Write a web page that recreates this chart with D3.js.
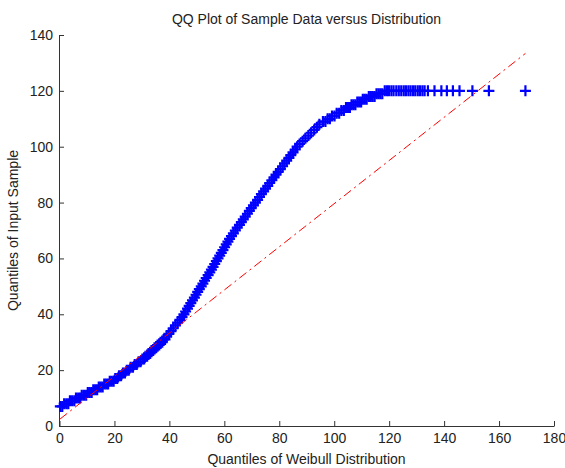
<!DOCTYPE html>
<html>
<head>
<meta charset="utf-8">
<script src="https://cdn.jsdelivr.net/npm/d3@7"></script>
<style>
    body { margin: 0; background: #fff; }
    text { font-family: "Liberation Sans", Arial, sans-serif; fill: #222; }
</style>
</head>
<body>
<div id="qq-plot"></div>
<script>
// sample quantile levels (y) and the Weibull quantiles (x) read for each level
const levelY = [7, 8, 9, 10, 11, 12, 13, 14, 15, 16, 17, 18, 19, 20, 21, 22, 23, 24, 25, 26,
    27, 28, 29, 30, 31, 32, 33, 34, 35, 36, 37, 38, 39, 40, 41, 42, 43, 44, 45, 46,
    47, 48, 49, 50, 51, 52, 53, 54, 55, 56, 57, 58, 59, 60, 61, 62, 63, 64, 65, 66,
    67, 68, 69, 70, 71, 72, 73, 74, 75, 76, 77, 78, 79, 80, 81, 82, 83, 84, 85, 86,
    87, 88, 89, 90, 91, 92, 93, 94, 95, 96, 97, 98, 99, 100, 101, 102, 103, 104, 105, 106,
    107, 108, 109, 110, 111, 112, 113, 114, 115, 116, 117, 118, 119, 120];
const levelX = [
    [0.3, 1.0], [1.7, 2.5, 3.2], [3.8, 4.6, 5.4], [6.0, 6.8, 7.5], [8.1, 8.9, 9.7],
    [10.3, 11.0, 11.7], [12.3, 13.0, 13.7], [14.3, 15.0, 15.7], [16.3, 17.0, 17.7], [18.3, 19.0, 19.7],
    [20.3, 21.0], [21.7, 22.4], [23.1, 23.8], [24.5, 25.2], [25.9, 26.7],
    [27.4, 28.1], [28.8, 29.5], [30.2, 30.8], [31.3, 31.9], [32.4, 33.0],
    [33.5, 34.1], [34.6, 35.2], [35.7, 36.3], [36.8, 37.4], [37.9, 38.4],
    [39.0], [39.8], [40.6], [41.4], [42.2], [43.0], [43.8], [44.6], [45.3], [45.9],
    [46.6], [47.2], [47.8], [48.4], [49.1], [49.7], [50.3], [50.9], [51.6], [52.2],
    [52.8], [53.4], [54.1], [54.7], [55.3], [55.9], [56.5], [57.1], [57.7], [58.3],
    [58.9], [59.5], [60.1], [60.7], [61.3], [61.9], [62.6], [63.3], [64.0], [64.7],
    [65.5], [66.2], [66.9], [67.6], [68.4], [69.1], [69.8], [70.6], [71.3], [72.1],
    [72.8], [73.5], [74.3], [75.0], [75.8], [76.5], [77.3], [78.1], [78.8], [79.6],
    [80.4], [81.2], [81.9], [82.7], [83.5], [84.2], [85.0], [85.8], [86.5], [87.4],
    [88.5], [89.5], [90.6], [91.6], [92.7], [93.7], [94.6], [95.9, 96.8], [97.6, 98.4], [99.2, 100.1],
    [100.9, 101.8], [102.6, 103.5], [104.3, 105.0, 105.7], [106.3, 107.0, 107.7], [108.4, 109.1, 109.8],
    [110.4, 111.1, 111.8], [112.6, 113.3, 114.0, 114.7], [115.4, 116.1, 116.8, 117.5],
    [118.4, 119.2, 119.9, 120.8, 121.6, 122.6, 123.5, 124.4, 125.3, 126.1, 127.0, 127.8, 128.7, 129.5,
        130.4, 131.2, 132.1, 132.9, 134.1, 136.5, 139.0, 141.0, 143.2, 145.6, 150.3, 156.3, 169.6]
];

// reference line ends
const refX = [0.2, 169.6];
const refY = [2.5, 133.4];

const xTicks = [0, 20, 40, 60, 80, 100, 120, 140, 160, 180];
const yTicks = [0, 20, 40, 60, 80, 100, 120, 140];

// set the dimensions and margins of the graph
const margin = { top: 35, right: 11, bottom: 42, left: 59 },
    width = 565 - margin.left - margin.right,
    height = 468 - margin.top - margin.bottom;

const svg = d3.select("#qq-plot")
    .append("svg")
    .attr("width", 565)
    .attr("height", 468)
    .append("g")
    .attr("transform", `translate(${margin.left},${margin.top})`);

const x = d3.scaleLinear()
    .domain([0, 180])
    .range([0.5, width]);
const y = d3.scaleLinear()
    .domain([0, 140])
    .range([height, 0]);

// axes, ticks pointing inward
const xAxis = svg.append("g")
    .attr("transform", `translate(0, ${height})`)
    .call(d3.axisBottom(x).tickValues(xTicks).tickSizeInner(-5).tickSizeOuter(0).tickPadding(7));
const yAxis = svg.append("g")
    .call(d3.axisLeft(y).tickValues(yTicks).tickSizeInner(-5).tickSizeOuter(0).tickPadding(6));

[xAxis, yAxis].forEach(a => {
    a.selectAll("path, line").attr("stroke", "#333");
    a.selectAll("text")
        .attr("font-family", "Liberation Sans, Arial, sans-serif")
        .attr("font-size", "14px")
        .attr("fill", "#222");
});

// flatten levels into points
const points = [];
levelY.forEach((v, i) => {
    levelX[i].forEach(q => points.push({ q: q, v: v }));
});

// + markers
svg.append("g")
    .selectAll("path")
    .data(points)
    .join("path")
    .attr("transform", d => `translate(${x(d.q)},${y(d.v)})`)
    .attr("d", "M-5.5,0H5.5M0,-5.5V5.5")
    .attr("stroke", "#0000ff")
    .attr("stroke-width", 2.2)
    .attr("fill", "none");

// dash-dot reference line
svg.append("path")
    .datum(refX.map((v, i) => [v, refY[i]]))
    .attr("d", d3.line().x(d => x(d[0])).y(d => y(d[1])))
    .attr("stroke", "#ff0000")
    .attr("stroke-width", 1)
    .attr("stroke-dasharray", "9,4,2,4")
    .attr("fill", "none");

// title and labels
svg.append("text")
    .attr("x", width / 2)
    .attr("y", -11)
    .attr("text-anchor", "middle")
    .attr("font-size", "14px")
    .text("QQ Plot of Sample Data versus Distribution");

svg.append("text")
    .attr("x", width / 2)
    .attr("y", height + 38)
    .attr("text-anchor", "middle")
    .attr("font-size", "14px")
    .text("Quantiles of Weibull Distribution");

svg.append("text")
    .attr("transform", `translate(${18 - margin.left},${height / 2}) rotate(-90)`)
    .attr("text-anchor", "middle")
    .attr("font-size", "14px")
    .text("Quantiles of Input Sample");
</script>
</body>
</html>
